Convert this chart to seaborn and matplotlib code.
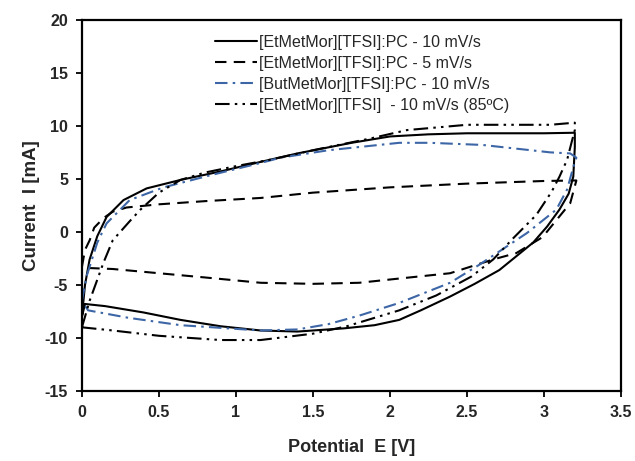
import numpy as np
import pandas as pd
import seaborn as sns
import matplotlib
matplotlib.use("Agg")
import matplotlib.pyplot as plt

# ---- data ----
labels = [
    "[EtMetMor][TFSI]:PC - 10 mV/s",
    "[EtMetMor][TFSI]:PC - 5 mV/s",
    "[ButMetMor][TFSI]:PC - 10 mV/s",
    "[EtMetMor][TFSI]  - 10 mV/s (85ºC)",
]

# Series 1: [EtMetMor][TFSI]:PC 10 mV/s (closed loop)
e_pc10 = [0.0, 0.02, 0.05, 0.10, 0.16, 0.27, 0.42, 0.64, 0.90, 1.16, 1.40, 1.75, 2.00, 2.25, 2.50, 2.75, 3.00, 3.20,
          3.20, 3.19, 3.16, 3.10, 3.02, 2.93, 2.82, 2.71, 2.55, 2.39, 2.20, 2.06, 1.90, 1.70, 1.40, 1.16, 0.90, 0.64, 0.40, 0.15, 0.02, 0.0]
i_pc10 = [-8.0, -5.0, -2.6, -0.4, 1.4, 3.0, 4.1, 4.9, 5.7, 6.6, 7.4, 8.4, 9.0, 9.2, 9.3, 9.3, 9.3, 9.35,
          8.0, 5.2, 3.6, 2.1, 0.5, -1.0, -2.3, -3.6, -4.9, -6.1, -7.4, -8.3, -8.8, -9.1, -9.4, -9.3, -8.9, -8.3, -7.6, -7.0, -6.8, -8.0]

# Series 2: [EtMetMor][TFSI]:PC 5 mV/s
e_pc5 = [0.0, 0.02, 0.05, 0.08, 0.14, 0.20, 0.29, 0.50, 0.80, 1.16, 1.50, 2.00, 2.50, 3.00, 3.21,
         3.17, 3.08, 2.99, 2.82, 2.67, 2.39, 2.06, 1.80, 1.50, 1.16, 0.80, 0.50, 0.20, 0.03, 0.0]
i_pc5 = [-3.3, -1.7, -0.8, 0.4, 1.3, 1.9, 2.3, 2.6, 2.9, 3.2, 3.7, 4.2, 4.55, 4.8, 4.85,
         2.7, 1.1, -0.5, -2.0, -2.6, -3.9, -4.4, -4.8, -4.9, -4.8, -4.3, -3.9, -3.5, -3.4, -3.3]

# Series 3: [ButMetMor][TFSI]:PC 10 mV/s
e_but = [0.0, 0.03, 0.10, 0.16, 0.31, 0.53, 0.85, 1.16, 1.29, 1.60, 2.06, 2.26, 2.60, 3.04, 3.17, 3.21,
         3.19, 3.15, 3.08, 2.89, 2.58, 2.39, 2.06, 1.80, 1.60, 1.40, 1.16, 0.64, 0.30, 0.04, 0.0]
i_but = [-6.5, -4.2, -1.0, 0.8, 3.0, 4.2, 5.4, 6.5, 7.0, 7.7, 8.4, 8.4, 8.2, 7.5, 7.4, 7.0,
         6.1, 4.0, 2.1, -0.1, -3.1, -4.8, -6.7, -7.9, -8.7, -9.2, -9.3, -8.8, -8.1, -7.4, -6.5]

# Series 4: [EtMetMor][TFSI] 10 mV/s (85 C)
e_85 = [0.0, 0.05, 0.10, 0.14, 0.20, 0.31, 0.38, 0.50, 0.64, 0.80, 1.00, 1.22, 1.50, 1.87, 2.11, 2.50, 3.04, 3.20,
        3.20, 3.18, 3.15, 3.10, 3.05, 2.95, 2.80, 2.67, 2.53, 2.30, 2.06, 1.72, 1.50, 1.16, 0.90, 0.50, 0.20, 0.0]
i_85 = [-9.0, -6.5, -4.5, -2.9, -0.8, 1.0, 2.1, 3.7, 4.9, 5.6, 6.2, 6.8, 7.7, 8.8, 9.6, 10.1, 10.1, 10.3,
        9.6, 8.5, 6.8, 5.2, 3.8, 1.6, -0.6, -2.6, -4.2, -6.0, -7.4, -8.9, -9.6, -10.2, -10.2, -9.8, -9.3, -9.0]

x_ticks = [0, 0.5, 1, 1.5, 2, 2.5, 3, 3.5]
x_tick_labels = ["0", "0.5", "1", "1.5", "2", "2.5", "3", "3.5"]
y_ticks = [-15, -10, -5, 0, 5, 10, 15, 20]
y_tick_labels = ["-15", "-10", "-5", "0", "5", "10", "15", "20"]

series = [
    (e_pc10, i_pc10, labels[0], "black", None),
    (e_pc5, i_pc5, labels[1], "black", (5.5, 3.5)),
    (e_but, i_but, labels[2], "#3c66a6", (6, 2.5, 1.2, 2.5)),
    (e_85, i_85, labels[3], "black", (7, 2.5, 1.2, 2.5, 1.2, 2.5)),
]

# ---- plotting ----
sns.set_style("white")
plt.rcParams["font.family"] = ["Liberation Sans", "DejaVu Sans"]

fig = plt.figure(figsize=(6.35, 4.61), dpi=100)
ax = fig.add_axes([0.129, 0.152, 0.849, 0.805])

for e, i, lab, col, dash in series:
    df = pd.DataFrame({"E": e, "I": i})
    sns.lineplot(data=df, x="E", y="I", sort=False, estimator=None, color=col,
                 linewidth=1.5, label=lab, ax=ax)
    ln = ax.lines[-1]
    if dash is not None:
        ln.set_dashes(dash)
        ln.set_dash_capstyle("butt")

ax.set_xlim(0, 3.5)
ax.set_ylim(-15, 20)
ax.set_xticks(x_ticks)
ax.set_xticklabels(x_tick_labels)
ax.set_yticks(y_ticks)
ax.set_yticklabels(y_tick_labels)
for t in ax.get_xticklabels() + ax.get_yticklabels():
    t.set_fontweight("bold")
    t.set_fontsize(11.5)
ax.tick_params(axis="both", direction="out", length=4, width=1.3, color="black",
               bottom=True, left=True, pad=6)

ax.set_xlabel("Potential  E [V]", fontsize=13, fontweight="bold", labelpad=14)
ax.set_ylabel("Current  I [mA]", fontsize=13.5, fontweight="bold", labelpad=3)

for sp in ax.spines.values():
    sp.set_visible(True)
    sp.set_color("black")
    sp.set_linewidth(1.6)

leg = ax.legend(loc="upper left", bbox_to_anchor=(0.247, 0.96), frameon=False,
                fontsize=11.5, handlelength=2.6, handletextpad=0.15,
                labelspacing=0.38, borderaxespad=0.0, borderpad=0.0)

fig.savefig("out.png", dpi=100)
